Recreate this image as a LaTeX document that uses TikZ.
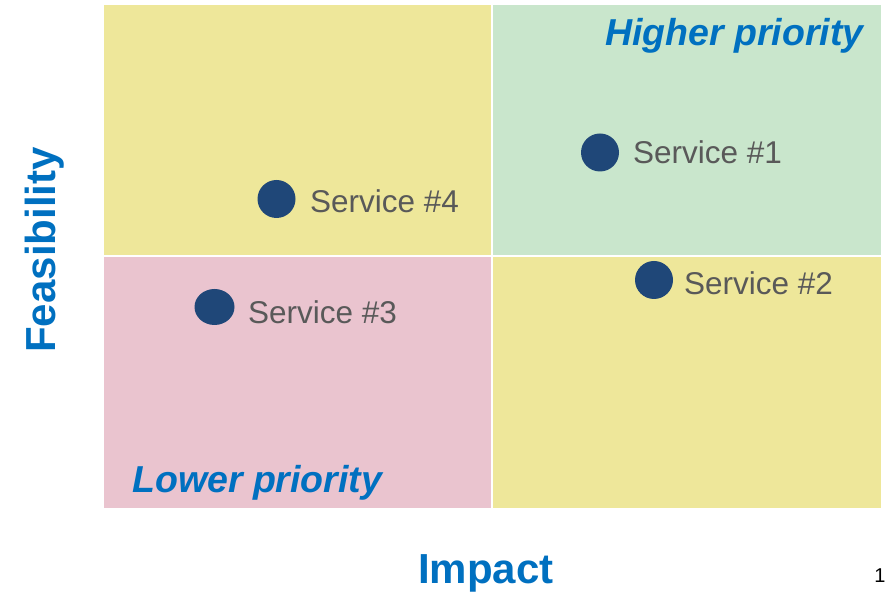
\documentclass[tikz,border=0pt]{standalone}
\usepackage{fontspec}
\setmainfont{Liberation Sans}
\usetikzlibrary{shapes.geometric}
\definecolor{qyellow}{HTML}{EEE79A}
\definecolor{qgreen}{HTML}{C9E6CC}
\definecolor{qpink}{HTML}{EAC4CF}
\definecolor{dotblue}{HTML}{1F4778}
\definecolor{labelblue}{HTML}{0070C0}
\definecolor{txtgray}{HTML}{595959}
\tikzset{
  svcdot/.style={circle, fill=dotblue, inner sep=0pt, minimum size=38pt},
  svctext/.style={anchor=base west, inner sep=0pt, text=txtgray, font=\fontsize{31.5}{37}\selectfont},
  prio/.style={inner sep=0pt, text=labelblue, font=\fontsize{37.5}{44}\selectfont\bfseries\itshape},
  axislabel/.style={inner sep=0pt, text=labelblue, font=\fontsize{42}{50}\selectfont\bfseries},
}
\begin{document}
\begin{tikzpicture}[x=1pt, y=-1pt]
\useasboundingbox (0,0) rectangle (887,593);
\fill[white] (0,0) rectangle (887,593);
% quadrants
\fill[qyellow] (104,5) rectangle (491,255);
\fill[qgreen] (493,5) rectangle (881,255);
\fill[qpink] (104,257) rectangle (491,508);
\fill[qyellow] (493,257) rectangle (881,508);
% priority labels
\node[prio, anchor=base west] (hp) at (605,46) {Higher priority};
\node[prio, anchor=base west] (lp) at (132,493) {Lower priority};
% services
\node[svcdot] (d1) at (600,152.5) {};
\node[svctext] (t1) at (633,164) {Service \#1};
\node[svcdot] (d2) at (654,280) {};
\node[svctext] (t2) at (684,295) {Service \#2};
\node[ellipse, fill=dotblue, inner sep=0pt, minimum width=40pt, minimum height=36pt] (d3) at (214.5,307) {};
\node[svctext] (t3) at (248,324) {Service \#3};
\node[svcdot] (d4) at (276.5,199) {};
\node[svctext] (t4) at (310,212.5) {Service \#4};
% axis labels
\node[axislabel, anchor=base] (ximp) at (486,583.5) {Impact};
\node[axislabel, anchor=base, rotate=90] (yfeas) at (56,250) {Feasibility};
\node[anchor=base, inner sep=0pt, font=\fontsize{20}{24}\selectfont] (pg) at (880,583) {1};
\end{tikzpicture}
\end{document}
